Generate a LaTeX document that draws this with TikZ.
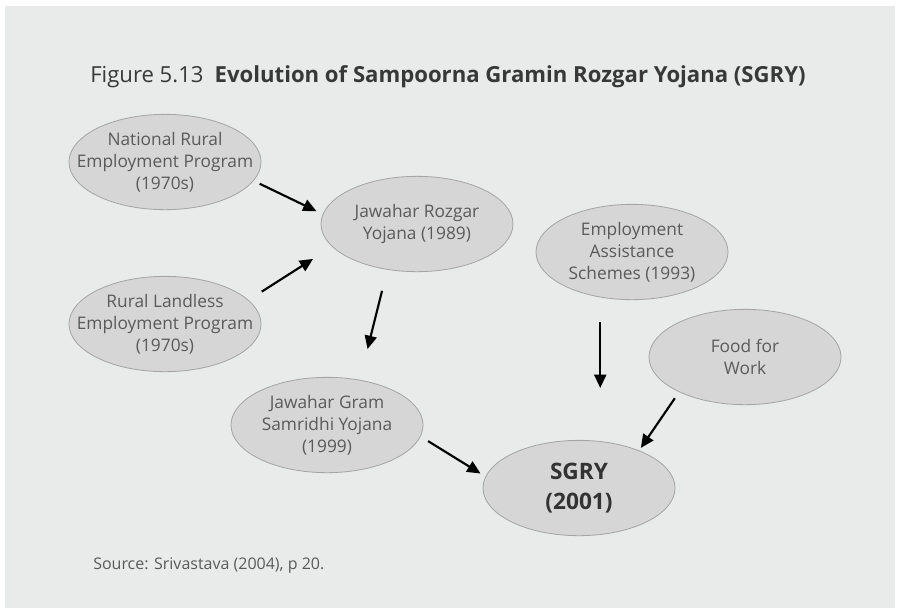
\documentclass[tikz,border=0pt]{standalone}
\usepackage{fontspec}
\setmainfont{Open Sans}
\usepackage{tikz}
\usetikzlibrary{arrows.meta,shapes}
\definecolor{panelgray}{HTML}{E8EBEA}
\definecolor{ovalgray}{HTML}{D5D6D5}
\definecolor{ovalline}{HTML}{A3A4A3}
\definecolor{ovaltext}{HTML}{5A5A5A}

\begin{document}
\begin{tikzpicture}[x=0.75pt,y=-0.75pt,
  prog/.style={ellipse,draw=ovalline,fill=ovalgray,line width=0.6pt,
    minimum width=144pt,minimum height=71.5pt,inner sep=0pt},
  progtext/.style={align=center,text=ovaltext,font=\fontsize{13}{16.5}\selectfont},
  arr/.style={-{Triangle[length=10pt,width=9pt]},line width=1.6pt}]

  \useasboundingbox (0,0) rectangle (898,608);
  \fill[panelgray] (5,6) rectangle (895,608);

  % Title and source
  \node[anchor=base west,inner sep=0pt,text=black!78,font=\fontsize{16.6}{20}\selectfont] (title) at (90,82)
    {Figure 5.13\enspace\textbf{Evolution of Sampoorna Gramin Rozgar Yojana (SGRY)}};
  \node[anchor=base west,inner sep=0pt,text=ovaltext,font=\fontsize{12}{14}\selectfont] (source) at (93,569)
    {Source: Srivastava (2004), p 20.};

  % Nodes
  \node[prog,label={[progtext]center:National Rural\\Employment Program\\(1970s)}] (nrep) at (165,162) {};
  \node[prog,label={[progtext]center:Jawahar Rozgar\\Yojana (1989)}] (jry) at (417,224) {};
  \node[prog,label={[progtext]center:Rural Landless\\Employment Program\\(1970s)}] (rlep) at (165,324) {};
  \node[prog,label={[progtext]center:Employment\\Assistance\\Schemes (1993)}] (eas) at (632,252) {};
  \node[prog,label={[progtext]center:Food for\\Work}] (ffw) at (745,357) {};
  \node[prog,label={[progtext]center:Jawahar Gram\\Samridhi Yojana\\(1999)}] (jgsy) at (327,425) {};
  \node[prog,label={[progtext,text=black!80,font=\fontsize{17}{22.5}\selectfont\bfseries]center:SGRY\\(2001)}] (sgry) at (579,488) {};

  % Arrows
  \draw[arr,shorten <=5pt,shorten >=5.2pt] (nrep.-12) -- (jry.174);
  \draw[arr,shorten <=11.7pt,shorten >=16.9pt] (rlep.16) -- (jry.195.5);
  \draw[arr,shorten <=16.3pt,shorten >=23.8pt] (jry.237.7) -- (jgsy.54.4);
  \draw[arr,shorten <=18.5pt,shorten >=39pt] (eas.235) -- (eas.235 |- sgry.north);
  \draw[arr,shorten <=5.6pt,shorten >=2.3pt] (ffw.208.8) -- (sgry.32.4);
  \draw[arr,shorten <=6.6pt,shorten >=4.3pt] (jgsy.-7.7) -- (sgry.173.2);

\end{tikzpicture}
\end{document}
